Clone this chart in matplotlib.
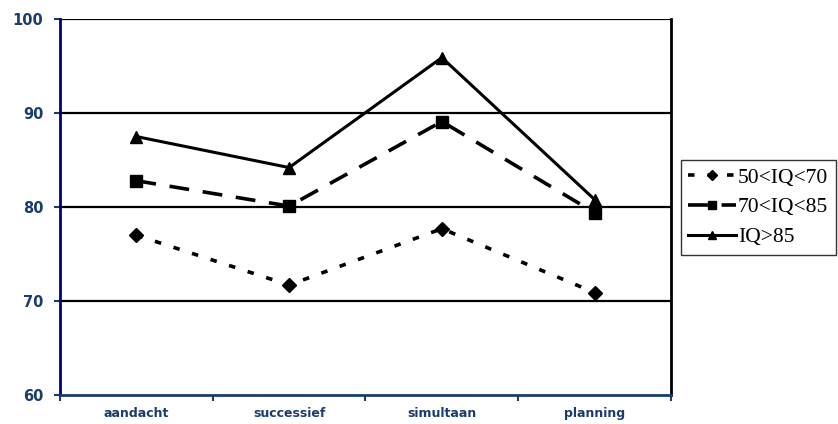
import matplotlib.pyplot as plt
from matplotlib.ticker import FixedLocator

# data
categorieen = ["aandacht", "successief", "simultaan", "planning"]
laag = [77.0, 71.7, 77.7, 70.9]      # 50<IQ<70
midden = [82.8, 80.1, 89.1, 79.4]    # 70<IQ<85
hoog = [87.5, 84.2, 95.9, 80.8]      # IQ>85
labels = ["50<IQ<70", "70<IQ<85", "IQ>85"]
yticks = [60, 70, 80, 90, 100]

blauw = "#1a3d6e"

fig = plt.figure(figsize=(8.38, 4.24), dpi=100)
ax = fig.add_axes([0.0716, 0.0684, 0.8007 - 0.0716, 0.955 - 0.0684])

x = list(range(len(categorieen)))
ax.plot(x, laag, color="black", lw=2.6, linestyle=(0, (1.8, 3.6)),
        marker="D", markersize=7, label=labels[0])
ax.plot(x, midden, color="black", lw=2.6, linestyle=(0, (5.5, 3.8)),
        marker="s", markersize=8, label=labels[1])
ax.plot(x, hoog, color="black", lw=2.2, linestyle="-",
        marker="^", markersize=9, label=labels[2])

ax.set_ylim(60, 100)
ax.set_xlim(-0.5, 3.5)
ax.set_yticks(yticks)
for v in yticks[1:]:
    ax.axhline(v, color="black", lw=1.6, zorder=0)

ax.set_xticks(x)
ax.set_xticklabels(categorieen)
ax.xaxis.set_minor_locator(FixedLocator([-0.5, 0.5, 1.5, 2.5, 3.5]))
ax.tick_params(axis="x", which="major", length=0, pad=9,
               labelsize=9, labelcolor=blauw)
ax.tick_params(axis="x", which="minor", length=4, width=1.5, color=blauw,
               direction="out")
ax.tick_params(axis="y", length=4, width=1.5, color=blauw, direction="out",
               labelsize=10.5, labelcolor=blauw, pad=8)
for t in ax.get_xticklabels() + ax.get_yticklabels():
    t.set_fontweight("bold")

ax.spines["left"].set_color("#000080")
ax.spines["left"].set_linewidth(2)
ax.spines["bottom"].set_color(blauw)
ax.spines["bottom"].set_linewidth(2)
ax.spines["right"].set_color("black")
ax.spines["right"].set_linewidth(2)
ax.spines["top"].set_visible(False)

leg = fig.legend(loc="upper left", bbox_to_anchor=(0.8126, 0.6226),
                 frameon=True, fancybox=False, edgecolor="black",
                 handlelength=2.2, handletextpad=0.1, borderpad=0.35,
                 labelspacing=0.45, borderaxespad=0, markerscale=0.7,
                 prop={"family": "Liberation Serif", "size": 15.5})
leg.get_frame().set_linewidth(1.0)

fig.savefig("out.png", dpi=100)
